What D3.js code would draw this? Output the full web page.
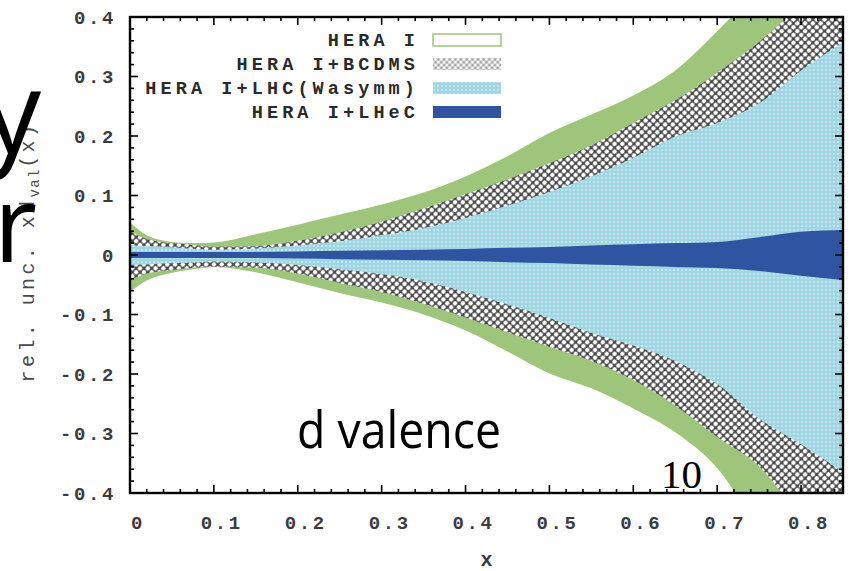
<!DOCTYPE html>
<html><head><meta charset="utf-8">
<script src="https://cdn.jsdelivr.net/npm/d3@7"></script>
<style>body{margin:0;background:#fff;} svg{display:block}</style>
</head><body>
<svg id="c" width="852" height="571"></svg>
<script>
// ---- data ----
const xs          = [0,     0.02,   0.05,   0.08,   0.1,    0.15,   0.2,    0.25,   0.3,    0.35,   0.4,    0.45,   0.5,    0.55,   0.6,    0.65,   0.7,    0.75,   0.8,    0.85];
const heraUpper   = [0.055, 0.033,  0.022,  0.020,  0.021,  0.035,  0.051,  0.068,  0.085,  0.105,  0.132,  0.166,  0.205,  0.236,  0.268,  0.310,  0.376,  0.450,  0.520,  0.590];
const heraLower   = [-0.062,-0.043, -0.030, -0.023, -0.020, -0.029, -0.046, -0.064, -0.080, -0.100, -0.127, -0.162, -0.199, -0.224, -0.258, -0.298, -0.358, -0.460, -0.540, -0.620];
const bcdmsUpper  = [0.040, 0.027,  0.020,  0.016,  0.014,  0.015,  0.024,  0.038,  0.056,  0.078,  0.102,  0.127,  0.154,  0.184,  0.222,  0.260,  0.306,  0.358,  0.420,  0.480];
const bcdmsLower  = [-0.042,-0.031, -0.025, -0.021, -0.020, -0.021, -0.031, -0.047, -0.062, -0.082, -0.105, -0.130, -0.154, -0.178, -0.210, -0.253, -0.306, -0.355, -0.440, -0.500];
const lhcUpper    = [0.017, 0.015,  0.013,  0.010,  0.009,  0.011,  0.016,  0.023,  0.033,  0.045,  0.062,  0.083,  0.106,  0.132,  0.163,  0.199,  0.222,  0.255,  0.310,  0.357];
const lhcLower    = [-0.017,-0.016, -0.014, -0.012, -0.011, -0.012, -0.017, -0.024, -0.032, -0.044, -0.062, -0.083, -0.106, -0.131, -0.152, -0.178, -0.217, -0.275, -0.318, -0.365];
const lhecUpper   = [0.005, 0.005,  0.005,  0.005,  0.005,  0.005,  0.006,  0.007,  0.008,  0.009,  0.010,  0.012,  0.0134, 0.016,  0.018,  0.020,  0.022,  0.030,  0.039,  0.042];
const lhecLower   = [-0.005,-0.005, -0.005, -0.005, -0.005, -0.005, -0.006, -0.007, -0.008, -0.009, -0.010, -0.012, -0.0134,-0.016, -0.018, -0.020, -0.022, -0.027, -0.035, -0.042];
const legendLabels = ["HERA I", "HERA I+BCDMS", "HERA I+LHC(Wasymm)", "HERA I+LHeC"];
const xTicks = [0, 0.1, 0.2, 0.3, 0.4, 0.5, 0.6, 0.7, 0.8];
const yTicks = [-0.4, -0.3, -0.2, -0.1, 0, 0.1, 0.2, 0.3, 0.4];
const xTitle = "x";

// ---- layout ----
const L = 130, R = 843, T = 17, B = 493;
const svg = d3.select("#c");
const x = d3.scaleLinear().domain([0, 0.85]).range([L, R]);
const y = d3.scaleLinear().domain([-0.4, 0.4]).range([B, T]);

const defs = svg.append("defs");
defs.append("clipPath").attr("id", "clip").append("rect")
  .attr("x", L).attr("y", T).attr("width", R - L).attr("height", B - T);

const hatch = defs.append("pattern").attr("id", "hatch").attr("patternUnits", "userSpaceOnUse")
  .attr("width", 5.5).attr("height", 5.5).attr("patternTransform", "rotate(45)");
hatch.append("rect").attr("width", 5.5).attr("height", 5.5).attr("fill", "#4a4a4a");
hatch.append("circle").attr("cx", 2.75).attr("cy", 2.75).attr("r", 2.2).attr("fill", "#fff");

const hatchL = defs.append("pattern").attr("id", "hatchL").attr("patternUnits", "userSpaceOnUse")
  .attr("width", 4).attr("height", 4).attr("patternTransform", "rotate(45)");
hatchL.append("rect").attr("width", 4).attr("height", 4).attr("fill", "#9a9a9a");
hatchL.append("circle").attr("cx", 2).attr("cy", 2).attr("r", 1.7).attr("fill", "#fff");

const cyan = defs.append("pattern").attr("id", "cyan").attr("patternUnits", "userSpaceOnUse")
  .attr("width", 4).attr("height", 4);
cyan.append("rect").attr("width", 4).attr("height", 4).attr("fill", "#9fd6e1");
cyan.append("circle").attr("cx", 2).attr("cy", 2).attr("r", 0.9).attr("fill", "#d2eef3");

const green = "#9dc67a", blue = "#2f55a2";

const bands = [
  {up: heraUpper, lo: heraLower, fill: green},
  {up: bcdmsUpper, lo: bcdmsLower, fill: "url(#hatch)"},
  {up: lhcUpper, lo: lhcLower, fill: "url(#cyan)"},
  {up: lhecUpper, lo: lhecLower, fill: blue}
];
const g = svg.append("g").attr("clip-path", "url(#clip)");
bands.forEach(b => {
  const area = d3.area().x((d, i) => x(xs[i])).y0((d, i) => y(b.lo[i])).y1((d, i) => y(b.up[i]))
    .curve(d3.curveMonotoneX);
  g.append("path").datum(xs).attr("d", area).attr("fill", b.fill);
});

// ---- ticks (inward, mirrored) ----
const tk = svg.append("g").attr("stroke", "#000").attr("stroke-width", 1.6);
const minorX = d3.range(0, 0.8501, 0.02), minorY = d3.range(-0.4, 0.4001, 0.02);
minorX.forEach(v => {
  const major = Math.abs(v * 10 - Math.round(v * 10)) < 1e-6;
  const len = major ? 8 : 4;
  tk.append("line").attr("x1", x(v)).attr("x2", x(v)).attr("y1", B).attr("y2", B - len);
  tk.append("line").attr("x1", x(v)).attr("x2", x(v)).attr("y1", T).attr("y2", T + len);
});
minorY.forEach(v => {
  const major = Math.abs(v * 10 - Math.round(v * 10)) < 1e-6;
  const len = major ? 8 : 4;
  tk.append("line").attr("y1", y(v)).attr("y2", y(v)).attr("x1", L).attr("x2", L + len);
  tk.append("line").attr("y1", y(v)).attr("y2", y(v)).attr("x1", R).attr("x2", R - len);
});
svg.append("rect").attr("x", L).attr("y", T).attr("width", R - L).attr("height", B - T)
  .attr("fill", "none").attr("stroke", "#000").attr("stroke-width", 2.4);

// ---- tick labels ----
const mono = "'Liberation Mono','DejaVu Sans Mono',monospace";
const fmt = v => (v === 0 ? "0" : d3.format(".1f")(v).replace("−", "-"));
svg.append("g").selectAll("text").data(yTicks).join("text")
  .attr("x", 116).attr("y", d => y(d) + 6.5).attr("text-anchor", "end")
  .attr("font-family", mono).attr("font-size", 19).attr("font-weight", "bold").attr("letter-spacing", 2.6)
  .attr("fill", "#3c3c3c").text(fmt);
svg.append("g").selectAll("text").data(xTicks).join("text")
  .attr("x", d => x(d) + 8).attr("y", 529).attr("text-anchor", "middle")
  .attr("font-family", mono).attr("font-size", 19).attr("font-weight", "bold").attr("letter-spacing", 2.6)
  .attr("fill", "#3c3c3c").text(fmt);
svg.append("text").attr("x", (L + R) / 2).attr("y", 566).attr("text-anchor", "middle")
  .attr("font-family", mono).attr("font-size", 20).attr("font-weight", "bold").attr("fill", "#3c3c3c").text(xTitle);

// y title
const yt = svg.append("text").attr("transform", "translate(34,252) rotate(-90)")
  .attr("text-anchor", "middle").attr("font-family", mono).attr("font-size", 20)
  .attr("letter-spacing", 3.4).attr("fill", "#4a4a4a");
yt.append("tspan").text("rel. unc. xd");
yt.append("tspan").attr("font-size", 14).attr("dy", 5).attr("letter-spacing", 1.5).text("val");
yt.append("tspan").attr("dy", -5).text("(x)");

// ---- legend ----
const legFills = [
  {fill: "#fff", stroke: green},
  {fill: "url(#hatchL)", stroke: "none"},
  {fill: "url(#cyan)", stroke: "none"},
  {fill: blue, stroke: "none"}
];
const lg = svg.append("g");
legendLabels.forEach((t, i) => {
  const cy = 40 + i * 24;
  lg.append("text").attr("x", 419).attr("y", cy + 6).attr("text-anchor", "end")
    .attr("font-family", mono).attr("font-size", 18.5).attr("font-weight", "bold")
    .attr("letter-spacing", 4.1).attr("fill", "#2a2a2a").text(t);
  lg.append("rect").attr("x", 433).attr("y", cy - 6).attr("width", 68).attr("height", 12)
    .attr("fill", legFills[i].fill).attr("stroke", legFills[i].stroke).attr("stroke-width", 1.5);
});

// ---- overlaid slide text ----
svg.append("text").attr("x", 297).attr("y", 448).attr("font-family", "'Open Sans',sans-serif")
  .attr("font-size", 52).attr("textLength", 204).attr("lengthAdjust", "spacingAndGlyphs")
  .attr("fill", "#000").text("d valence");
svg.append("text").attr("x", 661).attr("y", 488).attr("font-family", "'Liberation Serif',serif")
  .attr("font-size", 41).attr("fill", "#000").text("10");
svg.append("text").attr("x", 41).attr("y", 153).attr("text-anchor", "end")
  .attr("font-family", "'Open Sans',sans-serif").attr("font-size", 116).attr("fill", "#000").text("y");
svg.append("text").attr("x", 37).attr("y", 262).attr("text-anchor", "end")
  .attr("font-family", "'Open Sans',sans-serif").attr("font-size", 106).attr("fill", "#000").text("r");
</script>
</body></html>
